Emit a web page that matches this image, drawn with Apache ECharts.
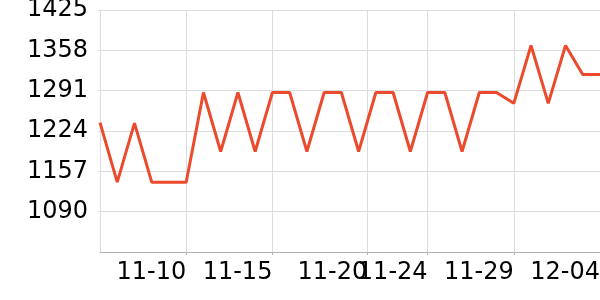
<!DOCTYPE html>
<html>
<head>
<meta charset="utf-8">
<script src="https://cdn.jsdelivr.net/npm/echarts@6/dist/echarts.min.js"></script>
<style>
html,body{margin:0;padding:0;background:#fff;}
#chart{width:600px;height:300px;}
</style>
</head>
<body>
<div id="chart"></div>
<script>
// Point positions along the x axis (ordinal index of each sample)
var pointIndex = [0,1,2,3,4,5,6,7,8,9,10,11,12,13,14,15,16,17,18,19,20,21,22,23,24,25,26,27,28,29];
var values = [1238,1139,1237,1139,1139,1139,1288,1190,1288,1190,1288,1288,1190,1288,1288,1190,1288,1288,1190,1288,1288,1190,1288,1288,1270,1366,1270,1366,1318,1318];
// X tick labels and where they sit on the ordinal scale
var xTickPositions = [5, 10, 15.5, 19, 24, 29];
var xTickLabels = ['11-10', '11-15', '11-20', '11-24', '11-29', '12-04'];
// Y axis scale
var yMin = 1023, yMax = 1425, yStep = 67;

var chart = echarts.init(document.getElementById('chart'), null, {renderer: 'canvas'});
var seriesData = pointIndex.map(function (x, i) { return [x, values[i]]; });
var labelMap = {};
xTickPositions.forEach(function (p, i) { labelMap[p] = xTickLabels[i]; });

chart.setOption({
  animation: false,
  grid: {left: 100, right: 0, top: 10, bottom: 48, containLabel: false, outerBoundsMode: 'none'},
  xAxis: {
    type: 'value',
    min: pointIndex[0],
    max: pointIndex[pointIndex.length - 1],
    axisLine: {show: true, lineStyle: {color: '#b4b4b4', width: 1}},
    axisTick: {show: true, length: 3, customValues: xTickPositions, lineStyle: {color: '#b4b4b4'}},
    axisLabel: {
      customValues: xTickPositions,
      formatter: function (v) { return labelMap[v] || ''; },
      align: 'right',
      margin: 9,
      fontFamily: 'DejaVu Sans',
      fontSize: 24,
      color: '#000'
    },
    splitLine: {show: true, lineStyle: {color: '#dcdcdc', width: 1}}
  },
  yAxis: {
    type: 'value',
    min: yMin,
    max: yMax,
    interval: yStep,
    axisLine: {show: true, lineStyle: {color: '#dcdcdc'}},
    axisTick: {show: true, length: 2, lineStyle: {color: '#dcdcdc'}},
    axisLabel: {
      showMinLabel: false,
      margin: 12,
      padding: [2, 0, 0, 0],
      formatter: function (v) { return String(v); },
      fontFamily: 'DejaVu Sans',
      fontSize: 24,
      color: '#000'
    },
    splitLine: {show: true, lineStyle: {color: '#dcdcdc', width: 1}}
  },
  series: [{
    type: 'line',
    data: seriesData,
    showSymbol: false,
    symbol: 'none',
    lineStyle: {color: '#ec4a2c', width: 3},
    clip: true
  }]
});
</script>
</body>
</html>
